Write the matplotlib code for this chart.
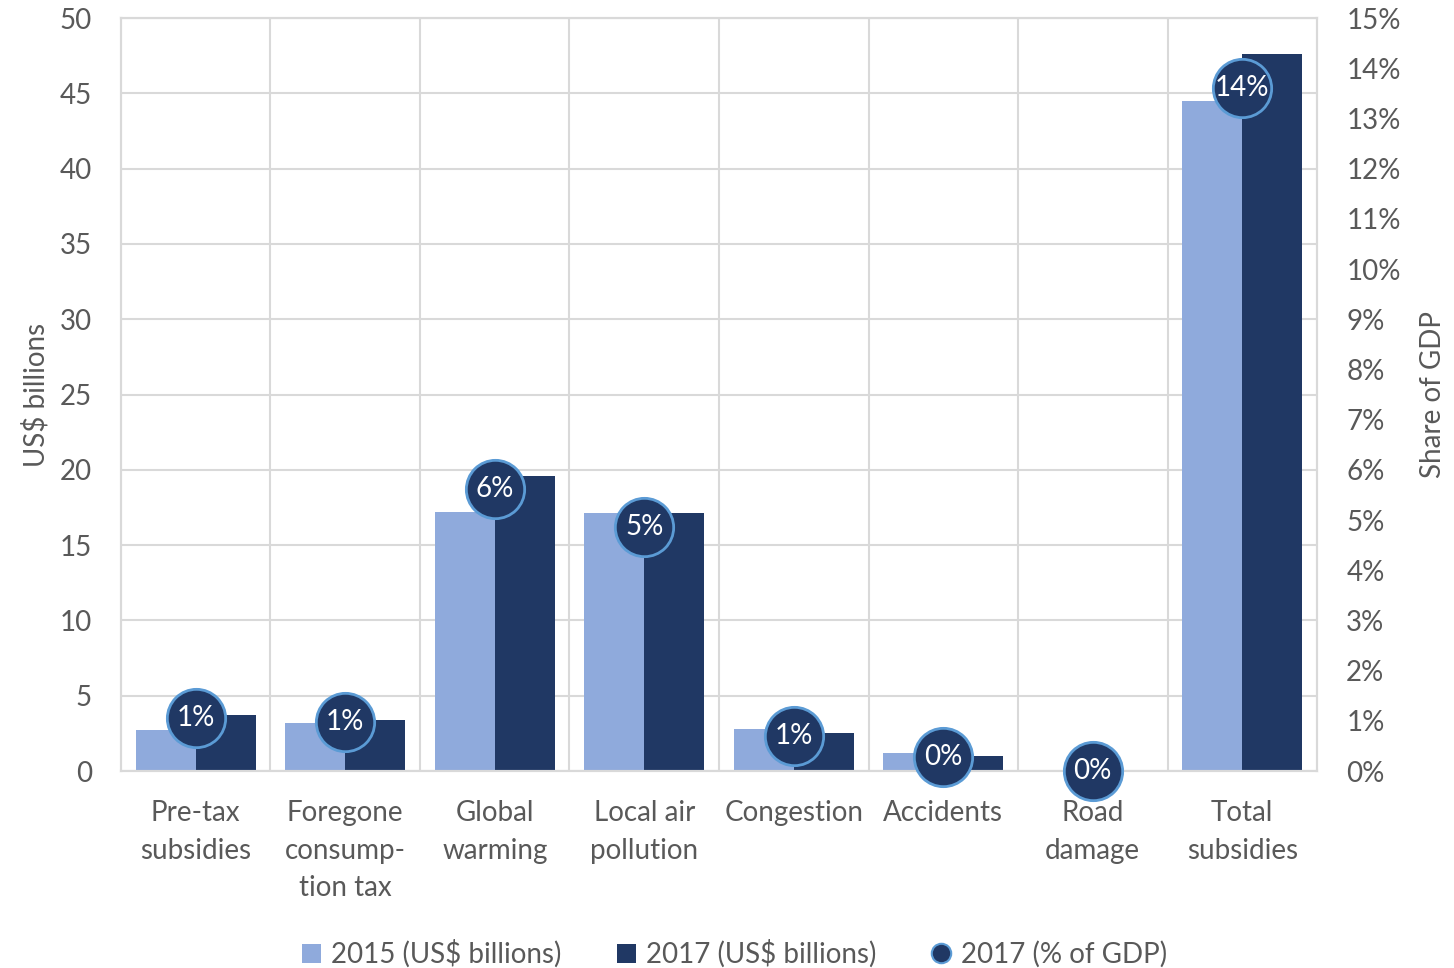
import matplotlib.pyplot as plt
from matplotlib.lines import Line2D
from matplotlib.patches import Patch
import numpy as np

# ------------------ DATA ------------------
categories = ['Pre-tax\nsubsidies', 'Foregone\nconsump-\ntion tax', 'Global\nwarming',
              'Local air\npollution', 'Congestion', 'Accidents', 'Road\ndamage', 'Total\nsubsidies']
usd_2015 = [2.7, 3.2, 17.2, 17.1, 2.8, 1.2, 0.1, 44.5]
usd_2017 = [3.7, 3.4, 19.6, 17.1, 2.5, 1.0, 0.1, 47.6]
gdp_2017 = [1.06, 0.98, 5.62, 4.86, 0.70, 0.28, 0.0, 13.6]
gdp_labels = ['1%', '1%', '6%', '5%', '1%', '0%', '0%', '14%']
# ------------------------------------------

LIGHT = '#8faadc'
DARK = '#203864'
EDGE = '#5b9bd5'
GRID = '#d9d9d9'
TEXT = '#595959'

plt.rcParams['font.family'] = ['Lato', 'DejaVu Sans']

fig = plt.figure(figsize=(14.54, 9.68), dpi=100)
ax = fig.add_axes([0.0832, 0.2035, 0.8226, 0.7779])
ax2 = ax.twinx()

x = np.arange(len(categories))
w = 0.4
ax.bar(x - w / 2, usd_2015, w, color=LIGHT, zorder=2)
ax.bar(x + w / 2, usd_2017, w, color=DARK, zorder=2)

ax.set_xlim(-0.5, len(categories) - 0.5)
ax.set_ylim(0, 50)
ax.set_yticks(range(0, 51, 5))
ax.yaxis.grid(True, color=GRID, linewidth=1.5, zorder=0)
for b in x[:-1] + 0.5:
    ax.axvline(b, color=GRID, linewidth=1.5, zorder=0)
ax.set_axisbelow(True)

ax.set_xticks(x)
ax.set_xticklabels(categories, fontsize=20, color=TEXT, linespacing=1.55)
ax.tick_params(axis='x', length=0, pad=21)
ax.tick_params(axis='y', length=0, labelsize=20, labelcolor=TEXT, pad=21)
ax.set_ylabel('US$ billions', fontsize=20, color=TEXT, labelpad=7)

ax2.set_ylim(0, 15)
ax2.set_yticks(range(0, 16))
ax2.set_yticklabels([f'{v}%' for v in range(0, 16)])
ax2.tick_params(axis='y', length=0, labelsize=20, labelcolor=TEXT, pad=21)
ax2.set_ylabel('Share of GDP', fontsize=20, color=TEXT, labelpad=14)

for a in (ax, ax2):
    for s in a.spines.values():
        s.set_color(GRID)
        s.set_linewidth(1.5)

ax2.plot(x, gdp_2017, linestyle='none', marker='o', markersize=42,
         markerfacecolor=DARK, markeredgecolor=EDGE, markeredgewidth=2,
         zorder=5, clip_on=False)
for xi, yi, lab in zip(x, gdp_2017, gdp_labels):
    ax2.text(xi, yi, lab, ha='center', va='center', color='white',
             fontsize=20, zorder=6)

handles = [
    Patch(facecolor=LIGHT, label='2015 (US$ billions)'),
    Patch(facecolor=DARK, label='2017 (US$ billions)'),
    Line2D([], [], linestyle='none', marker='o', markersize=14,
           markerfacecolor=DARK, markeredgecolor=EDGE, markeredgewidth=1.5,
           label='2017 (% of GDP)'),
]
leg = fig.legend(handles=handles, loc='lower center', ncol=3, frameon=False,
                 fontsize=20, bbox_to_anchor=(0.505, -0.026), handlelength=0.7,
                 handleheight=0.7, handletextpad=0.35, columnspacing=2.0)
for t in leg.get_texts():
    t.set_color(TEXT)

fig.savefig('out.png', dpi=100)
